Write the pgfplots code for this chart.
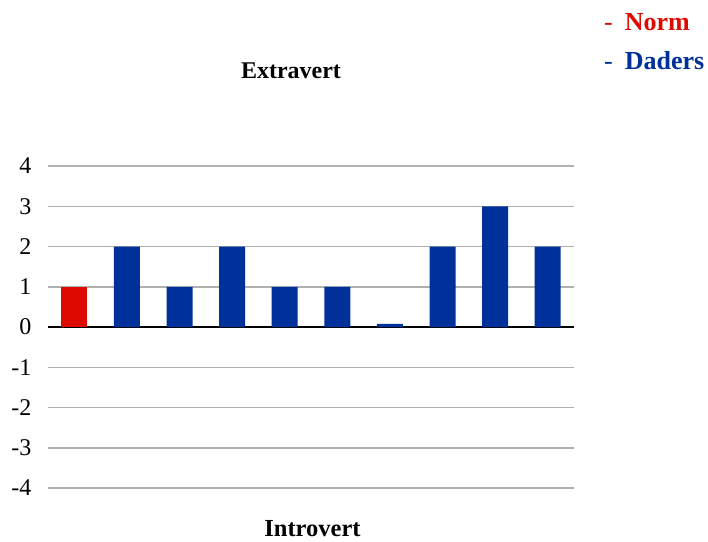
\documentclass[border=0pt]{standalone}
\usepackage{pgfplots}
\pgfplotsset{compat=1.18}
\usepackage{fontspec}
\setmainfont{Liberation Serif}
\definecolor{normred}{RGB}{221,10,0}
\definecolor{dblue}{RGB}{0,48,153}
\definecolor{gridgray}{RGB}{176,176,176}
\begin{document}
\begin{tikzpicture}[x=1pt,y=1pt]
\path[use as bounding box] (0,0) rectangle (708,541);
\begin{axis}[
  scale only axis,
  width=526pt, height=322pt,
  anchor=south west, at={(48pt,53pt)},
  xmin=-0.5, xmax=9.5, ymin=-4, ymax=4,
  axis line style={draw=none},
  xtick=\empty,
  ytick={-4,-3,-2,-1,0,1,2,3,4},
  yticklabels={-4,-3,-2,-1,0,1,2,3,4},
  major tick length=0pt,
  ymajorgrids,
  grid style={gridgray, line width=1.5pt},
  yticklabel style={font=\fontsize{24}{27}\selectfont, anchor=east, xshift=-13pt},
  extra y ticks={0},
  extra y tick labels={},
  extra y tick style={grid style={black, line width=1.5pt}},
  ybar, bar width=26pt, bar shift=0pt,
  clip=false,
]
\addplot[fill=normred, draw=none] coordinates {(0,1)};
\addplot[fill=dblue, draw=none] coordinates {(1,2) (2,1) (3,2) (4,1) (5,1) (6,0.08) (7,2) (8,3) (9,2)};
\end{axis}
\node[font=\bfseries\fontsize{24}{27}\selectfont] at (291,470) {Extravert};
\node[font=\bfseries\fontsize{24.5}{27}\selectfont] at (312.5,12) {Introvert};
\node[anchor=west, text=normred, font=\fontsize{26}{29}\selectfont, inner sep=0pt] at (604,519) {-\hspace{12pt}\textbf{Norm}};
\node[anchor=west, text=dblue, font=\fontsize{26}{29}\selectfont, inner sep=0pt] at (604,480) {-\hspace{12pt}\textbf{Daders}};
\end{tikzpicture}
\end{document}
